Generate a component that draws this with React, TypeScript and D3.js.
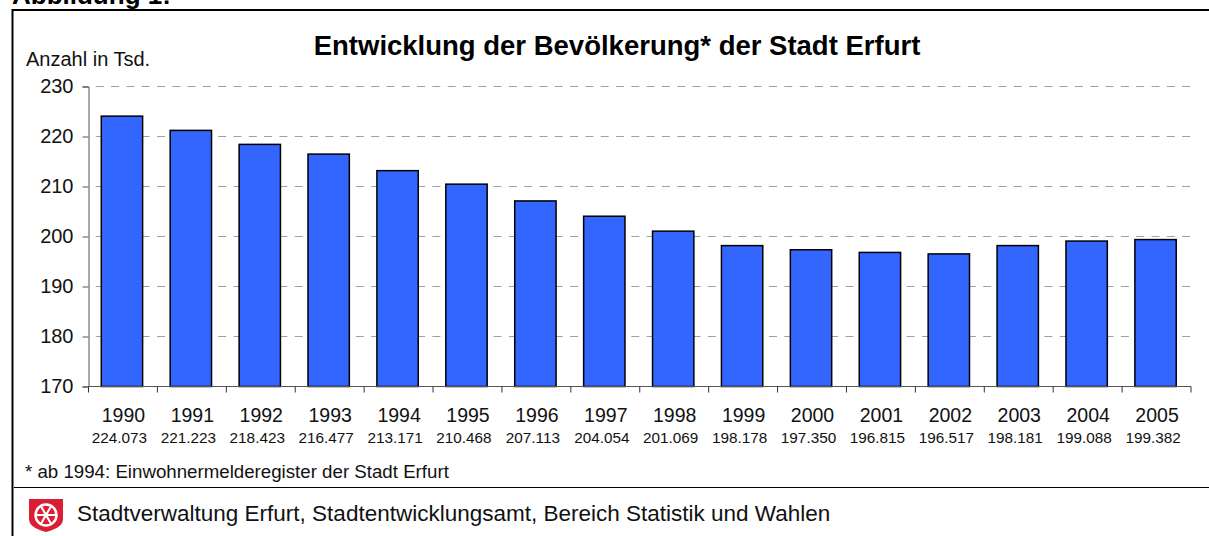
import React, { useEffect, useRef } from 'react'
import * as d3 from 'd3'

const width = 1209
const height = 536
const margin = { top: 86.5, right: 18, bottom: 149.5, left: 88.5 }

const years = ['1990', '1991', '1992', '1993', '1994', '1995', '1996', '1997', '1998', '1999', '2000', '2001', '2002', '2003', '2004', '2005']
const population = [224073, 221223, 218423, 216477, 213171, 210468, 207113, 204054, 201069, 198178, 197350, 196815, 196517, 198181, 199088, 199382]
const populationLabels = ['224.073', '221.223', '218.423', '216.477', '213.171', '210.468', '207.113', '204.054', '201.069', '198.178', '197.350', '196.815', '196.517', '198.181', '199.088', '199.382']
const yTicks = [170, 180, 190, 200, 210, 220, 230]

const font = '"Liberation Sans", Arial, sans-serif'

export default function App() {
  const ref = useRef<SVGSVGElement>(null)

  useEffect(() => {
    const svg = d3.select(ref.current)
    svg.selectAll('*').remove()
    svg.attr('font-family', font).attr('fill', '#111')

    // bars sit about a pixel left of the tick cells in the original
    const xScale = d3.scaleBand<string>()
      .domain(years)
      .range([margin.left - 1, width - margin.right - 1])
      .paddingInner(0.4)
      .paddingOuter(0.2)

    const yScale = d3.scaleLinear()
      .domain([170, 230])
      .range([height - margin.bottom, margin.top])

    // ------- frame --------//
    svg.append('path')
      .attr('d', `M12.5,${height}V10H${width}`)
      .attr('fill', 'none')
      .attr('stroke', '#000')
      .attr('stroke-width', 2)

    svg.append('line')
      .attr('x1', 14).attr('x2', width)
      .attr('y1', 487.5).attr('y2', 487.5)
      .attr('stroke', '#000')

    svg.append('text')
      .attr('x', 12).attr('y', 4)
      .attr('font-size', 26).attr('font-weight', 'bold').attr('fill', '#000')
      .text('Abbildung 1:')

    svg.append('text')
      .attr('x', 617).attr('y', 55)
      .attr('text-anchor', 'middle')
      .attr('font-size', 27.5).attr('font-weight', 'bold').attr('fill', '#000')
      .text('Entwicklung der Bevölkerung* der Stadt Erfurt')

    svg.append('text')
      .attr('x', 26).attr('y', 66)
      .attr('font-size', 20)
      .text('Anzahl in Tsd.')

    // ------- grid --------//
    svg.append('g')
      .selectAll('line')
      .data(yTicks.filter(d => d > 170))
      .join('line')
      .attr('x1', margin.left).attr('x2', width - margin.right)
      .attr('y1', d => yScale(d)).attr('y2', d => yScale(d))
      .attr('stroke', '#a0a0a0')
      .attr('stroke-dasharray', '8 7.3')
      .attr('stroke-dashoffset', 8)

    // ------- bars --------//
    svg.append('g')
      .selectAll('rect')
      .data(years)
      .join('rect')
      .attr('x', d => xScale(d)!)
      .attr('width', xScale.bandwidth())
      .attr('y', (d, i) => yScale(population[i] / 1000))
      .attr('height', (d, i) => yScale(170) - yScale(population[i] / 1000))
      .attr('fill', '#3366ff')
      .attr('stroke', '#000')
      .attr('stroke-width', 1.5)

    // ------- axis --------//
    const yAxis = d3.axisLeft(yScale)
      .tickValues(yTicks)
      .tickSize(6)
      .tickPadding(9)
    const yG = svg.append('g')
      .attr('transform', `translate(${margin.left},0)`)
      .call(yAxis)
    yG.selectAll('text').attr('font-size', 20).attr('font-family', font).attr('fill', '#111')
    yG.selectAll('line, path').attr('stroke', '#555')

    const step = xScale.step()
    const xEdges = d3.range(years.length + 1).map(i => margin.left + i * step)
    const xLine = svg.append('g')
    xLine.append('line')
      .attr('x1', margin.left).attr('x2', width - margin.right)
      .attr('y1', yScale(170)).attr('y2', yScale(170))
      .attr('stroke', '#555')
    xLine.selectAll('line.tick')
      .data(xEdges)
      .join('line')
      .attr('class', 'tick')
      .attr('x1', d => d).attr('x2', d => d)
      .attr('y1', yScale(170)).attr('y2', yScale(170) + 6)
      .attr('stroke', '#333')

    svg.append('g')
      .selectAll('text')
      .data(years)
      .join('text')
      .attr('x', d => xScale(d)! + xScale.bandwidth() / 2 + 1.5)
      .attr('y', 422)
      .attr('text-anchor', 'middle')
      .attr('font-size', 19.5)
      .text(d => d)

    svg.append('g')
      .selectAll('text')
      .data(populationLabels)
      .join('text')
      .attr('x', (d, i) => xScale(years[i])! + xScale.bandwidth() / 2 - 2.5)
      .attr('y', 443)
      .attr('text-anchor', 'middle')
      .attr('font-size', 15.3)
      .text(d => d)

    // ------- footer --------//
    svg.append('text')
      .attr('x', 25).attr('y', 478)
      .attr('font-size', 18.7)
      .text('* ab 1994: Einwohnermelderegister der Stadt Erfurt')

    svg.append('text')
      .attr('x', 77).attr('y', 521)
      .attr('font-size', 22.5)
      .text('Stadtverwaltung Erfurt, Stadtentwicklungsamt, Bereich Statistik und Wahlen')

    // coat of arms
    const logo = svg.append('g').attr('transform', 'translate(29,499)')
    logo.append('path')
      .attr('d', 'M0,0H34V20C34,28 24,31 17,33C10,31 0,28 0,20Z')
      .attr('fill', '#dc1e35')
    logo.append('circle')
      .attr('cx', 17).attr('cy', 16).attr('r', 10.5)
      .attr('fill', 'none').attr('stroke', '#fff').attr('stroke-width', 2.5)
    logo.append('circle')
      .attr('cx', 17).attr('cy', 16).attr('r', 2.5)
      .attr('fill', '#fff')
    logo.append('g')
      .selectAll('line')
      .data(d3.range(6))
      .join('line')
      .attr('x1', 17).attr('y1', 16)
      .attr('x2', d => 17 + 10 * Math.cos(d * Math.PI / 3))
      .attr('y2', d => 16 + 10 * Math.sin(d * Math.PI / 3))
      .attr('stroke', '#fff')
      .attr('stroke-width', 2)
  }, [])

  return <svg ref={ref} width={width} height={height} style={{ position: 'absolute', left: 0, top: 0, display: 'block' }} />
}
